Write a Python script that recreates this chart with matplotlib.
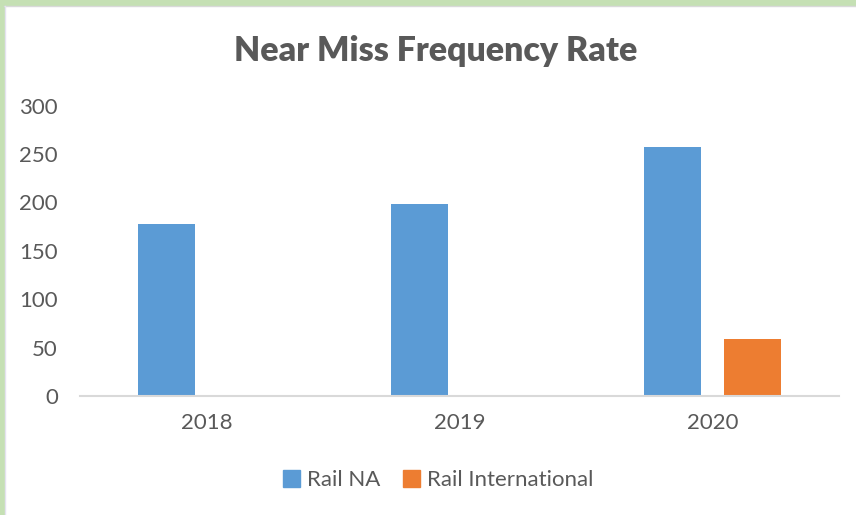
import matplotlib
matplotlib.use('Agg')
import matplotlib.pyplot as plt
import numpy as np
from matplotlib.patches import Rectangle, Patch
from matplotlib.lines import Line2D

years = ['2018', '2019', '2020']
rail_na = [178, 198, 257]
rail_intl = [0, 0, 59]
series_names = ['Rail NA', 'Rail International']

plt.rcParams['font.family'] = ['Lato', 'DejaVu Sans']
text_color = '#595959'

fig = plt.figure(figsize=(8.56, 5.15), dpi=100)
ax = fig.add_axes([80 / 856, 1 - 396 / 515, (839 - 80) / 856, (396 - 105.5) / 515])

x = np.arange(len(years))
w = 0.227
ax.bar(x - 0.159, rail_na, w, color='#5B9BD5', label=series_names[0], zorder=2)
ax.bar(x + 0.159, rail_intl, w, color='#ED7D31', label=series_names[1], zorder=2)

ax.set_xlim(-0.5, 2.5)
ax.set_ylim(0, 300)
ax.set_yticks(range(0, 301, 50))
ax.set_xticks(x)
ax.set_xticklabels(years)
for s in ['top', 'right', 'left']:
    ax.spines[s].set_visible(False)
ax.spines['bottom'].set_color('#D9D9D9')
ax.spines['bottom'].set_linewidth(1.5)
ax.tick_params(axis='both', length=0, labelsize=16, colors=text_color)
ax.tick_params(axis='y', pad=16)
ax.tick_params(axis='x', pad=12)

fig.text(436 / 856, 1 - 51 / 515, 'Near Miss Frequency Rate', ha='center', va='center',
         fontsize=24.4, fontweight='heavy', color=text_color)

handles = [Patch(color='#5B9BD5'), Patch(color='#ED7D31')]
fig.legend(handles, series_names, loc='center', bbox_to_anchor=(438 / 856, 1 - 480 / 515),
           ncol=2, frameon=False, fontsize=16, labelcolor=text_color,
           handlelength=0.8, handleheight=0.8, handletextpad=0.3, columnspacing=1.0)

# green frame round the chart
fig.patches.append(Rectangle((0, 1 - 5 / 515), 1, 5 / 515, transform=fig.transFigure,
                             color='#C5E0B4', zorder=0))
fig.patches.append(Rectangle((0, 0), 4 / 856, 1, transform=fig.transFigure,
                             color='#C5E0B4', zorder=0))
fig.lines.append(Line2D([4 / 856, 1], [1 - 6 / 515, 1 - 6 / 515], transform=fig.transFigure,
                        color='#D9D9D9', linewidth=1))
fig.lines.append(Line2D([4.5 / 856, 4.5 / 856], [0, 1 - 6 / 515], transform=fig.transFigure,
                        color='#E4E2F0', linewidth=1))

fig.savefig('out.png', dpi=100)
